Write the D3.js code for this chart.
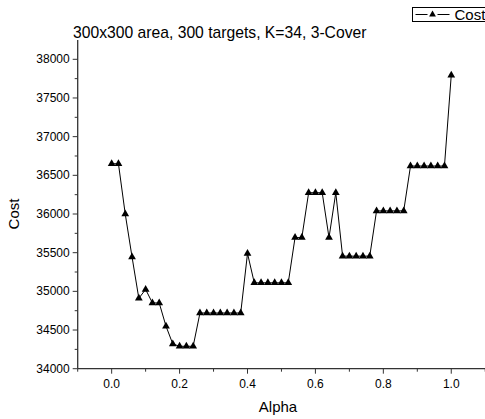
<!DOCTYPE html>
<html>
<head>
<meta charset="utf-8">
<script src="https://cdn.jsdelivr.net/npm/d3@7"></script>
<style>
  body { margin: 0; background: #fff; }
  svg { display: block; font-family: "Liberation Sans", Arial, sans-serif; }
</style>
</head>
<body>
<svg id="drawing_region"></svg>
<script>
// alpha values and the cost
const alphas = d3.range(0, 51).map(i => +(i * 0.02).toFixed(2));
const costs = [
  36650, 36650, 36000, 35445, 34910, 35025, 34850, 34850, 34550, 34320,
  34290, 34290, 34290, 34720, 34720, 34720, 34720, 34720, 34720, 34720,
  35490, 35110, 35110, 35110, 35110, 35110, 35110, 35695, 35695, 36275,
  36275, 36275, 35695, 36275, 35455, 35455, 35455, 35455, 35455, 36040,
  36040, 36040, 36040, 36040, 36620, 36620, 36620, 36620, 36620, 36620,
  37795
];
const xTicks = [0.0, 0.2, 0.4, 0.6, 0.8, 1.0];
const yTicks = [34000, 34500, 35000, 35500, 36000, 36500, 37000, 37500, 38000];
const seriesName = "Cost";
const title = "300x300 area, 300 targets, K=34, 3-Cover";

const data = alphas.map((a, i) => ({ alpha: a, cost: costs[i] }));

const config = {
    width: 485,
    height: 419,
    margin: { top: 59.3, right: 0, bottom: 50.3, left: 77.7 }
};

const svg = d3.select("#drawing_region")
    .attr("width", config.width)
    .attr("height", config.height);

const x = d3.scaleLinear()
    .domain([-0.1, 1.1])
    .range([config.margin.left, config.margin.left + 1.2 * 339.6]);

const y = d3.scaleLinear()
    .domain([34000, 38000])
    .range([config.height - config.margin.bottom, config.margin.top]);

const axisColor = "#333";

// x axis
const xAxis = svg.append("g")
    .attr("transform", `translate(0, ${y(34000)})`);
xAxis.append("line")
    .attr("x1", x(-0.1)).attr("x2", x(1.1))
    .attr("stroke", axisColor).attr("stroke-width", 1.3);
xAxis.selectAll(".minor")
    .data(d3.range(-1, 12).map(i => i / 10).filter(v => !xTicks.some(t => Math.abs(t - v) < 1e-9)))
    .enter().append("line")
    .attr("x1", d => x(d)).attr("x2", d => x(d))
    .attr("y1", 0).attr("y2", 3)
    .attr("stroke", axisColor);
xAxis.selectAll(".major")
    .data(xTicks)
    .enter().append("line")
    .attr("x1", d => x(d)).attr("x2", d => x(d))
    .attr("y1", 0).attr("y2", 5)
    .attr("stroke", axisColor);
xAxis.selectAll("text")
    .data(xTicks)
    .enter().append("text")
    .attr("x", d => x(d))
    .attr("y", 19)
    .attr("text-anchor", "middle")
    .attr("font-size", 12)
    .text(d => d.toFixed(1));

// y axis, running a little above the last tick
const yAxis = svg.append("g")
    .attr("transform", `translate(${x(-0.1)}, 0)`);
yAxis.append("line")
    .attr("y1", y(34000)).attr("y2", 40)
    .attr("stroke", axisColor).attr("stroke-width", 1.3);
yAxis.selectAll(".minor")
    .data(d3.range(34250, 38000, 500))
    .enter().append("line")
    .attr("y1", d => y(d)).attr("y2", d => y(d))
    .attr("x1", 0).attr("x2", -3)
    .attr("stroke", axisColor);
yAxis.selectAll(".major")
    .data(yTicks)
    .enter().append("line")
    .attr("y1", d => y(d)).attr("y2", d => y(d))
    .attr("x1", 0).attr("x2", -5)
    .attr("stroke", axisColor);
yAxis.selectAll("text")
    .data(yTicks)
    .enter().append("text")
    .attr("x", -8)
    .attr("y", d => y(d) + 4)
    .attr("text-anchor", "end")
    .attr("font-size", 12)
    .text(d => d);

// axis titles
svg.append("text")
    .attr("x", 278).attr("y", 412)
    .attr("text-anchor", "middle")
    .attr("font-size", 15)
    .text("Alpha");
svg.append("text")
    .attr("transform", `translate(19, ${(y(34000) + y(38000)) / 2}) rotate(-90)`)
    .attr("text-anchor", "middle")
    .attr("font-size", 15)
    .text("Cost");

svg.append("text")
    .attr("x", 73).attr("y", 38)
    .attr("font-size", 15.7)
    .text(title);

// series
const line = d3.line()
    .x(d => x(d.alpha))
    .y(d => y(d.cost));
svg.append("path")
    .datum(data)
    .attr("d", line)
    .attr("fill", "none")
    .attr("stroke", "#000")
    .attr("stroke-width", 1);

const tri = d3.symbol().type(d3.symbolTriangle).size(26);
svg.selectAll(".pt")
    .data(data)
    .enter().append("path")
    .attr("d", tri)
    .attr("transform", d => `translate(${x(d.alpha)}, ${y(d.cost)})`)
    .attr("fill", "#000");

// legend (runs off the right edge, as in the original)
const legend = svg.append("g").attr("transform", "translate(412.5, 7.5)");
legend.append("rect")
    .attr("width", 100).attr("height", 14)
    .attr("fill", "#fff").attr("stroke", "#000");
legend.append("line")
    .attr("x1", 3).attr("x2", 15).attr("y1", 7).attr("y2", 7)
    .attr("stroke", "#000");
legend.append("line")
    .attr("x1", 25).attr("x2", 37).attr("y1", 7).attr("y2", 7)
    .attr("stroke", "#000");
legend.append("path")
    .attr("d", d3.symbol().type(d3.symbolTriangle).size(20))
    .attr("transform", "translate(20, 7)")
    .attr("fill", "#000");
legend.append("text")
    .attr("x", 42).attr("y", 12.5)
    .attr("font-size", 15)
    .text(seriesName);
</script>
</body>
</html>
